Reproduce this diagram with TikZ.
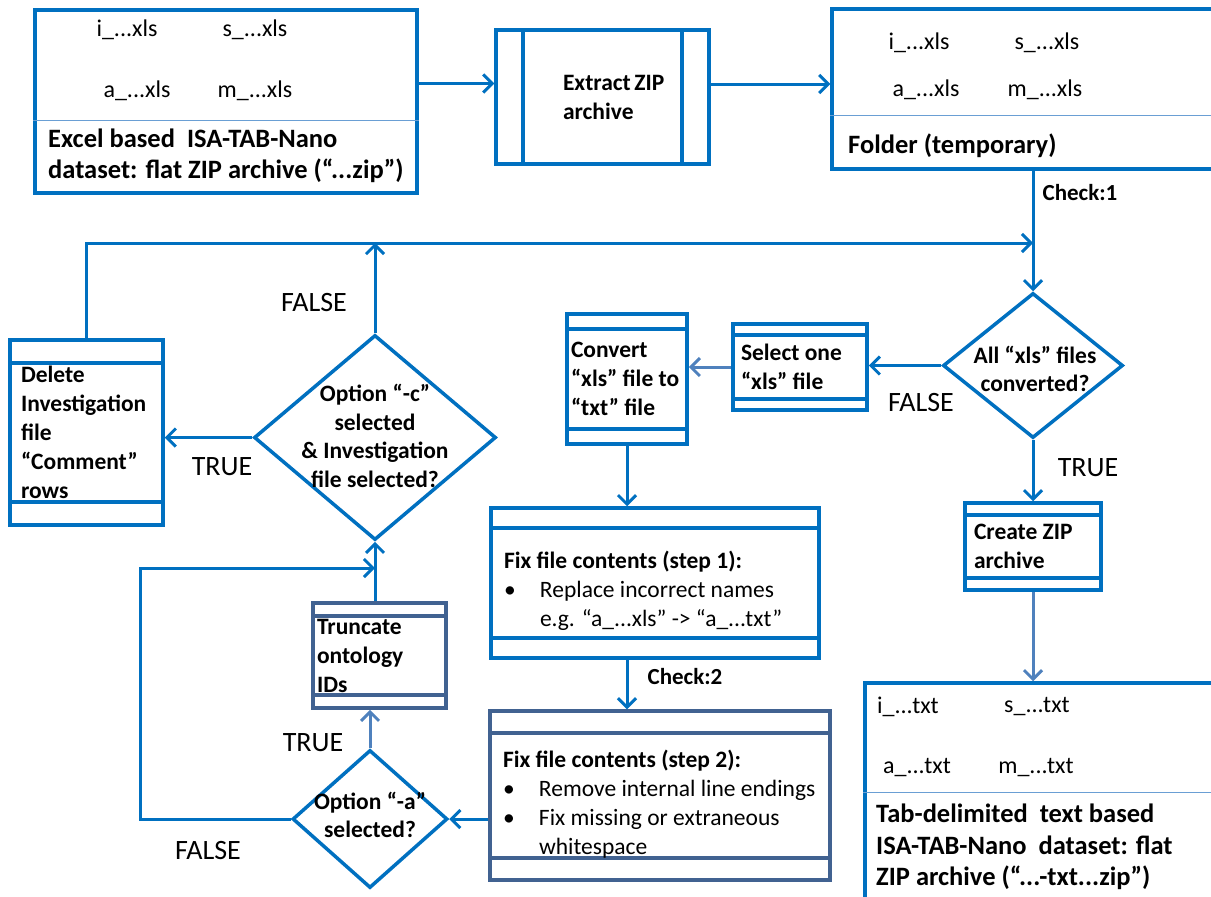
\documentclass[tikz,border=0pt]{standalone}
\usepackage{fontspec}
\setmainfont{Carlito}
\usepackage{xcolor}
\usepackage{tikz}
\usetikzlibrary{positioning,shapes.geometric,arrows.meta}

\definecolor{mainblue}{RGB}{0,112,192}
\definecolor{slateblue}{RGB}{65,98,145}
\definecolor{paleblue}{RGB}{79,129,189}
\definecolor{rulerblue}{RGB}{106,159,212}
\hyphenpenalty=10000

\begin{document}
\begin{tikzpicture}[
x=1pt, y=-1pt,
>={Straight Barb[length=9pt,width=18pt]},
box/.style={rectangle, draw, color=mainblue, fill=white, text=black, line width=3.5pt, align=flush left, inner ysep=0pt, font=\fontsize{23.5}{29}\selectfont\bfseries},
slatebox/.style={box, color=slateblue, fill=white, text=black},
bands/.style={path picture={
\draw ([yshift=-#1]path picture bounding box.north west) -- ([yshift=-#1]path picture bounding box.north east);
\draw ([yshift=#1]path picture bounding box.south west) -- ([yshift=#1]path picture bounding box.south east);
}},
sidebars/.style={path picture={
\draw ([xshift=#1]path picture bounding box.north west) -- ([xshift=#1]path picture bounding box.south west);
\draw ([xshift=-#1]path picture bounding box.north east) -- ([xshift=-#1]path picture bounding box.south east);
}},
filebox/.style={rectangle, draw=mainblue, fill=white, line width=3.5pt},
divider/.style={draw=rulerblue, line width=1.2pt},
fname/.style={font=\fontsize{24}{29}\selectfont, inner sep=0pt},
caption/.style={align=left, font=\fontsize{26.5}{31.5}\selectfont\bfseries, inner sep=0pt},
decision/.style={diamond, draw=mainblue, fill=white, line width=3.5pt, inner sep=0pt},
dtext/.style={align=center, font=\fontsize{23.5}{28.5}\selectfont\bfseries, inner sep=0pt},
tf/.style={font=\fontsize{28}{34}\selectfont, inner sep=0pt},
check/.style={font=\fontsize{23}{28}\selectfont\bfseries, inner sep=0pt},
flow/.style={draw=mainblue, line width=3pt}
]
\useasboundingbox (0,0) rectangle (1211,897);

% input archive
\node[filebox, minimum width=382pt, minimum height=183pt](excel) at (226,101.5){};
\draw[divider] ([yshift=-112pt]excel.north west) -- ([yshift=-112pt]excel.north east);
\node[fname](excel_i) at (127,30){i\_...xls};
\node[fname](excel_s) at (255,30){s\_...xls};
\node[fname](excel_a) at (137,91){a\_...xls};
\node[fname](excel_m) at (255,91){m\_...xls};
\node[caption, anchor=west](excel_name) at (48,156){Excel based\ \ ISA-TAB-Nano\\dataset: flat ZIP archive (“...zip”)};

\node[box, sidebars=27pt, minimum width=213pt, minimum height=134pt, inner xsep=67pt, text width=79pt](extract) at (602.5,97){Extract~ZIP\\archive};

% temporary folder
\node[filebox, minimum width=382pt, minimum height=160pt](folder) at (1023,89){};
\draw[divider] ([yshift=-108pt]folder.north west) -- ([yshift=-108pt]folder.north east);
\node[fname](folder_i) at (919,43){i\_...xls};
\node[fname](folder_s) at (1047,43){s\_...xls};
\node[fname](folder_a) at (926,90){a\_...xls};
\node[fname](folder_m) at (1045,90){m\_...xls};
\node[caption, anchor=west](folder_name) at (848,146){Folder (temporary)};

% conversion loop
\node[decision, minimum width=180pt, minimum height=145pt](conv) at (1033,365.5){};
\node[dtext](conv_text) at (1035,369){All “xls” files\\converted?};
\node[box, bands=11pt, minimum width=134pt, minimum height=86pt, inner xsep=8pt, text width=118pt](select) at (800,367){Select one\\“xls" file};
\node[box, bands=15pt, minimum width=120pt, minimum height=130pt, inner xsep=4pt, text width=112pt](convert) at (627,379){Convert\\“xls”~file~to\\“txt” file};
\node[box, bands=20pt, minimum width=328pt, minimum height=150pt, inner xsep=13pt, text width=302pt](fix1) at (655,583){\rule{0pt}{34pt}Fix file contents (step 1):\\\mdseries\makebox[36pt][l]{•}Replace incorrect names\\\hspace*{36pt}e.g. “a\_...xls” -> “a\_...txt”};
\node[slatebox, bands=22pt, minimum width=340pt, minimum height=169pt, inner xsep=13pt, text width=314pt](fix2) at (660,795.5){\rule{0pt}{34pt}Fix file contents (step 2):\\\mdseries\makebox[36pt][l]{•}Remove~internal~line~endings\\\makebox[36pt][l]{•}Fix missing or extraneous\\\hspace*{36pt}whitespace};

% options
\node[decision, minimum width=155pt, minimum height=138pt](opt_a) at (370,819){};
\node[dtext](opt_a_text) at (370,815){Option “-a”\\selected?};
\node[slatebox, bands=13pt, minimum width=133pt, minimum height=105pt, inner xsep=4pt, text width=125pt](truncate) at (379.5,655.5){Truncate\\ontology\\IDs};
\node[decision, minimum width=242pt, minimum height=205pt](opt_c) at (375,437.5){};
\node[dtext](opt_c_text) at (375,436){Option “-c”\\selected\\\& Investigation\\file selected?};
\node[box, bands=23pt, minimum width=153pt, minimum height=185pt, inner xsep=11pt, text width=131pt](delete) at (86.5,432.5){Delete\\Investigation\\file\\“Comment”\\rows};

% output archive
\node[box, bands=12pt, minimum width=136pt, minimum height=87pt, inner xsep=9pt, text width=118pt](create)[below of = conv, node distance=181pt]{Create ZIP\\archive};
\node[filebox, minimum width=349pt, minimum height=222pt](result) at (1039.5,794){};
\draw[divider] ([yshift=-111pt]result.north west) -- ([yshift=-111pt]result.north east);
\node[fname](result_i) at (908,707){i\_...txt};
\node[fname](result_s) at (1037,707){s\_...txt};
\node[fname](result_a) at (917,768){a\_...txt};
\node[fname](result_m) at (1036,768){m\_...txt};
\node[caption, anchor=west](result_name) at (876,847){Tab-delimited\ \ text based\\ISA-TAB-Nano\ \ dataset: flat\\ZIP archive (“...-txt...zip”)};

% labels
\node[check](check_one) at (1080,193){Check:1};
\node[check](check_two) at (685,677){Check:2};
\node[tf](false_sel) at (921,403){FALSE};
\node[tf](true_conv) at (1088,468){TRUE};
\node[tf](false_c) at (314,303){FALSE};
\node[tf](true_c) at (222,467){TRUE};
\node[tf](true_a) at (313,743){TRUE};
\node[tf](false_a) at (208,851){FALSE};

\coordinate (loop_top) at (88,243);
\coordinate (loop_a) at (140,568);

\draw[flow, ->] ([yshift=18pt]excel.east) -- ([yshift=18pt]excel.east -| extract.west);
\draw[flow, ->] ([yshift=13pt]extract.east) -- ([yshift=13pt]extract.east -| folder.west);
\draw[flow, ->] (folder.south -| conv.north) -- (conv.north);
\draw[flow, ->] (delete.north) |- (conv.north |- loop_top);
\draw[flow, ->] (opt_c.north) -- (opt_c.north |- loop_top);
\draw[flow, ->] (opt_c.west) -- (opt_c.west -| delete.east);
\draw[flow, ->] (conv.west) -- (conv.west -| select.east);
\draw[flow, draw=paleblue, ->] (select.west) -- (select.west -| convert.east);
\draw[flow, ->] (convert.south) -- (convert.south |- fix1.north);
\draw[flow, ->] (fix1.south -| convert.south) -- (fix2.north -| convert.south);
\draw[flow, ->] (fix2.west |- opt_a.east) -- (opt_a.east);
\draw[flow, draw=paleblue, ->] (opt_a.north) -- (opt_a.north |- truncate.south);
\draw[flow, ->] (opt_c.south |- truncate.north) -- (opt_c.south);
\draw[flow, ->] (opt_a.west) -| (loop_a) -- (loop_a -| opt_c.south);
\draw[flow, ->] (conv.south) -- (conv.south |- create.north);
\draw[flow, draw=paleblue, ->] (create.south) -- (create.south |- result.north);

\end{tikzpicture}
\end{document}
